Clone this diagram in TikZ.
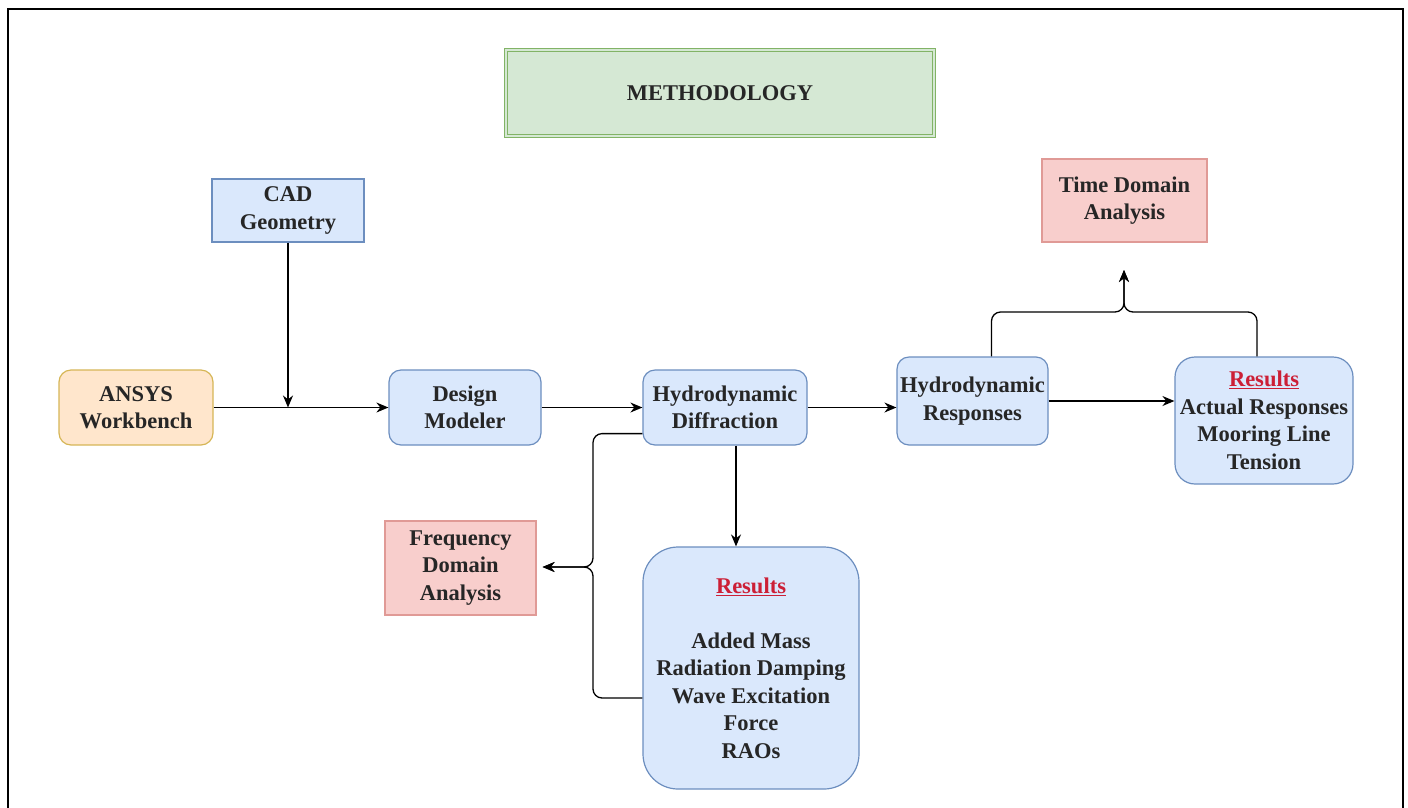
\documentclass[tikz,border=0pt]{standalone}
\usepackage{fontspec}
\setmainfont{Liberation Serif}[BoldFont={Liberation Serif Bold}]
\usetikzlibrary{arrows.meta,calc}
\definecolor{bfill}{HTML}{DAE8FC}
\definecolor{bdraw}{HTML}{6C8EBF}
\definecolor{gfill}{HTML}{D5E8D4}
\definecolor{gdraw}{HTML}{82B366}
\definecolor{ofill}{HTML}{FFE6CC}
\definecolor{odraw}{HTML}{D6B656}
\definecolor{rfill}{HTML}{F8CECC}
\definecolor{rdraw}{HTML}{E09A96}
\definecolor{resred}{HTML}{CC1F36}
\newcommand{\resl}{\textcolor{resred}{\underline{Results}}}
\begin{document}
\begin{tikzpicture}[x=1pt,y=-1pt,
  every node/.style={font=\rmfamily\bfseries\fontsize{22.5}{27.5}\selectfont, align=center, inner sep=0pt, text=black!85},
  bluebox/.style={draw=bdraw, fill=bfill, line width=1.2pt},
  rbox/.style={bluebox, rounded corners=12pt},
  redbox/.style={draw=rdraw, fill=rfill, line width=1.2pt},
  conn/.style={line width=1.3pt, -{Stealth[length=12pt,width=10pt]}},
  plain/.style={line width=1.3pt}]
\useasboundingbox (0,0) rectangle (1408,807);
\draw[line width=2.5pt] (8,810) -- (8,9) -- (1403,9) -- (1403,810);

\node[draw=gdraw, fill=gfill, double=gfill, double distance=2.5pt, line width=0.9pt, minimum width=428pt, minimum height=86pt] (meth) at (720,93) {METHODOLOGY};
\node[bluebox, minimum width=152pt, minimum height=63pt] (cad) at (288,210.5) {CAD\\Geometry};
\node[draw=odraw, fill=ofill, line width=1.2pt, rounded corners=12pt, minimum width=154pt, minimum height=75pt] (aw) at (136,407.5) {ANSYS\\Workbench};
\node[rbox, minimum width=152pt, minimum height=75pt] (dm) at (465,407.5) {Design\\Modeler};
\node[rbox, minimum width=164pt, minimum height=75pt] (hd) at (725,407.5) {Hydrodynamic\\Diffraction};
\node[rbox, minimum width=151pt, minimum height=88pt] (hr) at (972.5,401) {Hydrodynamic\\Responses};
\node[bluebox, rounded corners=20pt, minimum width=178pt, minimum height=127pt] (res1) at (1264,420.5) {\resl\\Actual Responses\\Mooring Line\\Tension};
\node[redbox, minimum width=165pt, minimum height=83pt] (tda) at (1124.5,200.5) {Time Domain\\Analysis};
\node[redbox, minimum width=151pt, minimum height=94pt] (fda) at (460.5,568) {Frequency\\Domain\\Analysis};
\node[bluebox, rounded corners=35pt, minimum width=216pt, minimum height=242pt] (res2) at (751,668) {\resl\\[27.5pt]Added Mass\\Radiation Damping\\Wave Excitation\\Force\\RAOs};

\coordinate (jl) at (593,567);
\coordinate (jt) at (1124,312);
\coordinate (tt) at (1124,270);

\draw[conn] (aw.east) -- (dm.west);
\draw[conn] (cad.south) -- (cad.south |- aw.east);
\draw[conn] (dm.east) -- (hd.west);
\draw[conn] (hd.east) -- (hd.east -| hr.west);
\draw[conn] (hr.east) -- (hr.east -| res1.west);
\draw[conn] ([xshift=11pt]hd.south) -- ([xshift=11pt]hd.south |- res2.north);

\draw[conn, rounded corners=9pt] ([yshift=12pt]hd.south west) -| (jl) -- ([xshift=6pt]fda.east |- jl);
\draw[conn, rounded corners=9pt] ([yshift=-30pt]res2.west) -| (jl) -- ([xshift=6pt]fda.east |- jl);
\draw[conn, rounded corners=9pt] ([xshift=19pt]hr.north) |- (jt) -- (tt);
\draw[conn, rounded corners=9pt] ([xshift=-7pt]res1.north) |- (jt) -- (tt);
\end{tikzpicture}
\end{document}
